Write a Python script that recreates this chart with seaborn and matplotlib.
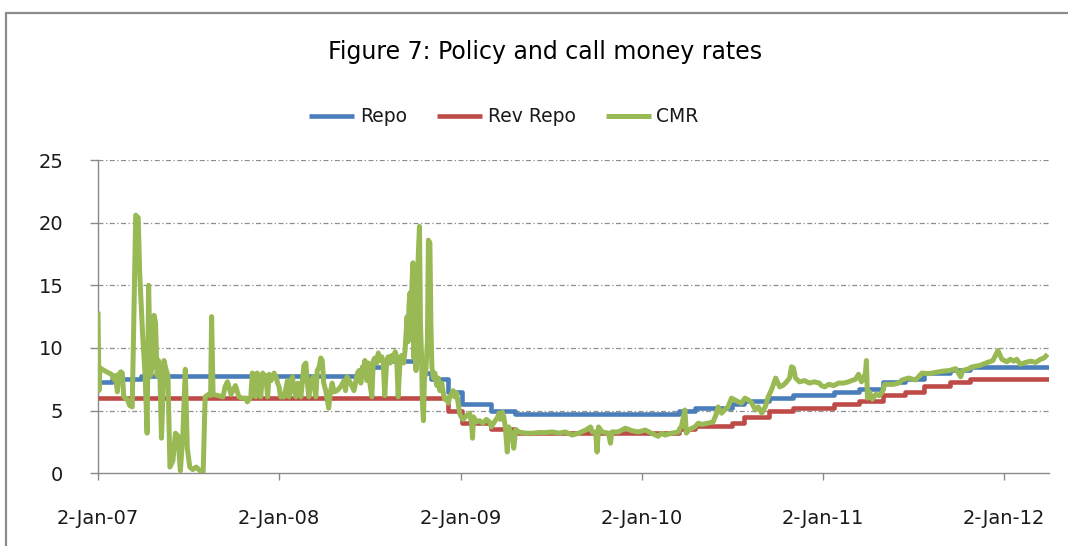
import matplotlib
matplotlib.use("Agg")
import matplotlib.pyplot as plt
import matplotlib.patches as mpatches
import pandas as pd
import seaborn as sns

# ---------------- data ----------------
repo_dates = ["2007-01-02", "2007-01-31", "2007-03-30", "2008-06-11", "2008-06-25",
              "2008-07-30", "2008-10-20", "2008-11-03", "2008-12-08", "2009-01-05",
              "2009-03-05", "2009-04-21", "2010-03-19", "2010-04-20", "2010-07-02",
              "2010-07-27", "2010-09-16", "2010-11-02", "2011-01-25", "2011-03-17",
              "2011-05-03", "2011-06-16", "2011-07-26", "2011-09-16", "2011-10-25",
              "2012-04-02"]
repo_rates = [7.25, 7.5, 7.75, 8.0, 8.5, 9.0, 8.0, 7.5, 6.5, 5.5, 5.0, 4.75, 5.0, 5.25,
              5.5, 5.75, 6.0, 6.25, 6.5, 6.75, 7.25, 7.5, 8.0, 8.25, 8.5, 8.5]

rev_repo_dates = ["2007-01-02", "2008-12-08", "2009-01-05", "2009-03-05", "2009-04-21",
                  "2010-03-19", "2010-04-20", "2010-07-02", "2010-07-27", "2010-09-16",
                  "2010-11-02", "2011-01-25", "2011-03-17", "2011-05-03", "2011-06-16",
                  "2011-07-26", "2011-09-16", "2011-10-25", "2012-04-02"]
rev_repo_rates = [6.0, 5.0, 4.0, 3.5, 3.25, 3.5, 3.75, 4.0, 4.5, 5.0, 5.25, 5.5, 5.75,
                  6.25, 6.5, 7.0, 7.25, 7.5, 7.5]

cmr_dates = [
    "2007-01-02", "2007-01-04", "2007-01-06", "2007-01-19", "2007-01-29", "2007-02-03",
    "2007-02-06", "2007-02-10", "2007-02-13", "2007-02-17", "2007-02-20", "2007-02-23",
    "2007-03-02", "2007-03-07", "2007-03-12", "2007-03-15", "2007-03-19", "2007-03-24",
    "2007-03-27", "2007-04-02", "2007-04-07", "2007-04-11", "2007-04-14", "2007-04-18",
    "2007-04-21", "2007-04-25", "2007-04-28", "2007-05-01", "2007-05-04", "2007-05-07",
    "2007-05-10", "2007-05-15", "2007-05-19", "2007-05-23", "2007-05-27", "2007-06-02",
    "2007-06-07", "2007-06-12", "2007-06-17", "2007-06-22", "2007-06-27", "2007-07-01",
    "2007-07-06", "2007-07-12", "2007-07-19", "2007-07-29", "2007-08-02", "2007-08-06",
    "2007-08-13", "2007-08-17", "2007-08-19", "2007-08-22", "2007-09-01", "2007-09-11",
    "2007-09-15", "2007-09-20", "2007-09-27", "2007-10-06", "2007-10-13", "2007-10-20",
    "2007-10-27", "2007-10-30", "2007-11-06", "2007-11-09", "2007-11-13", "2007-11-16",
    "2007-11-19", "2007-11-23", "2007-11-26", "2007-11-30", "2007-12-03", "2007-12-06",
    "2007-12-10", "2007-12-13", "2007-12-17", "2007-12-20", "2007-12-23", "2007-12-27",
    "2007-12-30",
    "2008-01-02", "2008-01-05", "2008-01-12", "2008-01-19", "2008-01-22", "2008-01-26",
    "2008-01-29", "2008-02-01", "2008-02-05", "2008-02-09", "2008-02-15", "2008-02-21",
    "2008-02-25", "2008-02-28", "2008-03-02", "2008-03-07", "2008-03-11", "2008-03-16",
    "2008-03-19", "2008-03-23", "2008-03-26", "2008-03-29", "2008-04-01", "2008-04-05",
    "2008-04-08", "2008-04-11", "2008-04-15", "2008-04-18", "2008-04-22", "2008-04-28",
    "2008-05-05", "2008-05-12", "2008-05-15", "2008-05-18", "2008-05-25", "2008-06-01",
    "2008-06-08", "2008-06-11", "2008-06-15", "2008-06-18", "2008-06-20", "2008-06-23",
    "2008-06-27", "2008-06-30", "2008-07-03", "2008-07-07", "2008-07-10", "2008-07-13",
    "2008-07-17", "2008-07-20", "2008-07-23", "2008-07-27", "2008-07-30", "2008-08-02",
    "2008-08-06", "2008-08-09", "2008-08-13", "2008-08-16", "2008-08-19", "2008-08-23",
    "2008-08-26", "2008-08-29", "2008-09-02", "2008-09-05", "2008-09-09", "2008-09-12",
    "2008-09-16", "2008-09-18", "2008-09-20", "2008-09-22", "2008-09-24", "2008-09-26",
    "2008-09-28", "2008-09-30", "2008-10-02", "2008-10-04", "2008-10-06", "2008-10-09",
    "2008-10-11", "2008-10-13", "2008-10-15", "2008-10-17", "2008-10-19", "2008-10-21",
    "2008-10-24", "2008-10-27", "2008-10-29", "2008-11-01", "2008-11-03", "2008-11-05",
    "2008-11-08", "2008-11-11", "2008-11-15", "2008-11-18", "2008-11-21", "2008-11-25",
    "2008-11-28", "2008-12-01", "2008-12-05", "2008-12-08", "2008-12-11", "2008-12-15",
    "2008-12-18", "2008-12-21", "2008-12-25", "2008-12-28", "2008-12-31",
    "2009-01-03", "2009-01-07", "2009-01-14", "2009-01-20", "2009-01-24", "2009-01-26",
    "2009-01-28", "2009-02-03", "2009-02-09", "2009-02-16", "2009-02-23", "2009-03-01",
    "2009-03-05", "2009-03-11", "2009-03-18", "2009-03-20", "2009-03-23", "2009-03-27",
    "2009-03-30", "2009-04-02", "2009-04-06", "2009-04-09", "2009-04-12", "2009-04-16",
    "2009-04-19", "2009-04-23", "2009-04-29", "2009-05-13", "2009-05-26", "2009-06-09",
    "2009-06-22", "2009-07-06", "2009-07-19", "2009-08-01", "2009-08-15", "2009-08-28",
    "2009-09-11", "2009-09-21", "2009-09-24", "2009-10-01", "2009-10-04", "2009-10-07",
    "2009-10-14", "2009-10-27", "2009-10-31", "2009-11-03", "2009-11-16", "2009-11-30",
    "2009-12-13", "2009-12-26",
    "2010-01-09", "2010-01-22", "2010-02-04", "2010-02-11", "2010-02-18", "2010-03-03",
    "2010-03-17", "2010-03-20", "2010-03-23", "2010-03-30", "2010-04-02", "2010-04-08",
    "2010-04-19", "2010-04-26", "2010-05-03", "2010-05-16", "2010-05-26", "2010-06-02",
    "2010-06-05", "2010-06-12", "2010-06-18", "2010-06-25", "2010-07-02", "2010-07-09",
    "2010-07-16", "2010-07-22", "2010-07-29", "2010-08-05", "2010-08-12", "2010-08-19",
    "2010-08-25", "2010-09-01", "2010-09-08", "2010-09-14", "2010-09-21", "2010-09-29",
    "2010-10-07", "2010-10-13", "2010-10-19", "2010-10-27", "2010-10-31", "2010-11-04",
    "2010-11-08", "2010-11-16", "2010-11-26", "2010-12-06", "2010-12-16", "2010-12-26",
    "2010-12-30",
    "2011-01-06", "2011-01-14", "2011-01-24", "2011-02-03", "2011-02-13", "2011-02-23",
    "2011-03-01", "2011-03-09", "2011-03-15", "2011-03-21", "2011-03-25", "2011-03-29",
    "2011-03-31", "2011-04-02", "2011-04-06", "2011-04-12", "2011-04-19", "2011-04-26",
    "2011-05-02", "2011-05-07", "2011-05-15", "2011-05-25", "2011-06-04", "2011-06-11",
    "2011-06-24", "2011-07-08", "2011-07-21", "2011-08-04", "2011-08-17", "2011-09-01",
    "2011-09-14", "2011-09-27", "2011-10-07", "2011-10-11", "2011-10-24", "2011-10-31",
    "2011-11-14", "2011-11-27", "2011-12-11", "2011-12-21", "2011-12-29",
    "2012-01-08", "2012-01-15", "2012-01-22", "2012-01-28", "2012-02-04", "2012-02-15",
    "2012-02-25", "2012-03-06", "2012-03-16", "2012-03-23", "2012-03-30",
]
cmr_rates = [
    12.9, 6.6, 8.4, 8.1, 7.9, 7.5,
    7.8, 6.5, 7.9, 8.1, 8.0, 6.1,
    5.9, 5.4, 5.3, 12.0, 20.6, 20.4,
    16.0, 11.0, 7.8, 3.2, 15.0, 7.8,
    8.5, 12.6, 12.0, 7.8, 9.0, 7.5,
    2.8, 9.0, 8.3, 7.8, 0.5, 1.0,
    3.2, 3.0, 0.2, 3.0, 8.3, 2.0,
    0.5, 0.3, 0.5, 0.1, 0.1, 6.1,
    6.3, 6.2, 12.5, 6.3, 6.2, 6.1,
    6.9, 7.3, 6.3, 7.0, 6.1, 6.0,
    6.0, 5.7, 6.1, 8.0, 7.9, 6.1,
    8.0, 7.5, 6.1, 8.0, 7.5, 7.8,
    6.1, 7.9, 7.4, 7.7, 8.0, 7.7,
    7.2,
    6.9, 6.1, 6.1, 7.4, 6.1, 7.4,
    7.7, 6.6, 6.1, 7.2, 6.1, 8.6,
    8.8, 7.2, 6.1, 7.4, 7.7, 6.1,
    8.2, 8.5, 9.2, 9.0, 7.2, 6.6,
    5.9, 5.2, 6.6, 7.2, 6.5, 6.6,
    6.9, 7.4, 6.6, 7.7, 7.2, 6.6,
    8.0, 8.2, 7.2, 8.5, 8.0, 9.0,
    7.4, 8.8, 7.2, 6.1, 9.0, 9.2,
    8.8, 9.6, 9.0, 9.3, 8.8, 6.2,
    9.0, 9.3, 8.8, 9.4, 9.0, 9.7,
    9.3, 6.1, 9.1, 9.4, 8.8, 9.8,
    12.5, 10.5, 13.5, 14.4, 11.0, 15.2,
    16.8, 9.2, 16.5, 8.2, 14.0, 17.8,
    19.7, 12.0, 9.5, 5.5, 4.2, 7.5,
    8.3, 10.5, 18.6, 18.4, 12.0, 8.5,
    7.6, 8.0, 7.0, 7.6, 6.6, 7.2,
    6.4, 5.9, 6.0, 5.6, 6.1, 6.4,
    6.6, 6.1, 6.4, 5.6, 4.8,
    4.5, 4.3, 4.6, 4.8, 4.0, 2.8,
    4.5, 4.1, 4.2, 4.0, 4.3, 4.1,
    3.7, 4.1, 4.5, 4.8, 4.3, 4.9,
    4.5, 3.7, 1.7, 3.7, 3.3, 3.2,
    2.0, 3.5, 3.3, 3.2, 3.2, 3.25,
    3.25, 3.3, 3.2, 3.3, 3.05, 3.2,
    3.45, 3.7, 3.3, 3.3, 1.7, 3.7,
    3.3, 3.2, 2.4, 3.3, 3.3, 3.6,
    3.4, 3.3,
    3.45, 3.2, 2.95, 3.2, 3.05, 3.2,
    3.3, 3.6, 3.7, 5.05, 3.2, 3.5,
    3.7, 4.0, 3.9, 4.0, 4.1, 4.8,
    5.3, 4.8, 5.05, 5.3, 6.0, 5.85,
    5.7, 5.6, 6.0, 5.85, 5.6, 5.05,
    5.3, 4.8, 5.3, 6.1, 6.7, 7.6,
    6.9, 7.0, 7.2, 7.6, 8.5, 8.4,
    7.6, 7.3, 7.4, 7.2, 7.3, 7.2,
    7.0,
    6.9, 7.1, 7.0, 7.2, 7.2, 7.3,
    7.4, 7.5, 7.9, 7.3, 7.6, 8.0,
    9.0, 6.0, 6.5, 5.9, 6.3, 6.2,
    6.5, 7.1, 7.1, 7.1, 7.2, 7.45,
    7.6, 7.45, 8.0, 7.95, 8.05, 8.15,
    8.2, 8.35, 7.7, 8.2, 8.35, 8.5,
    8.6, 8.8, 9.0, 9.8, 9.1,
    8.9, 9.1, 8.95, 9.1, 8.7, 8.85,
    8.95, 8.85, 9.1, 9.2, 9.5,
]

series_names = ["Repo", "Rev Repo", "CMR"]
series_colors = ["#4A7EBB", "#BE4B48", "#98B954"]
title_text = "Figure 7: Policy and call money rates"
x_tick_dates = ["2007-01-02", "2008-01-02", "2009-01-02", "2010-01-02", "2011-01-02", "2012-01-02"]
x_tick_labels = ["2-Jan-07", "2-Jan-08", "2-Jan-09", "2-Jan-10", "2-Jan-11", "2-Jan-12"]
y_ticks = [0, 5, 10, 15, 20, 25]
x_range = ["2007-01-02", "2012-04-02"]

# ---------------- figure ----------------
sns.set_style("white")
plt.rcParams["font.family"] = ["DejaVu Sans"]

W, H = 1068, 546
fig = plt.figure(figsize=(W / 100, H / 100), dpi=100)
ax = fig.add_axes([98 / W, 1 - 473.3 / H, (1049 - 98) / W, (473.3 - 160) / H])

repo_df = pd.DataFrame({"date": pd.to_datetime(repo_dates), "rate": repo_rates})
rev_df = pd.DataFrame({"date": pd.to_datetime(rev_repo_dates), "rate": rev_repo_rates})
cmr_df = pd.DataFrame({"date": pd.to_datetime(cmr_dates), "rate": cmr_rates})

common = dict(ax=ax, legend=False, solid_joinstyle="round", solid_capstyle="butt")
sns.lineplot(data=repo_df, x="date", y="rate", color=series_colors[0], linewidth=3.3,
             drawstyle="steps-post", zorder=3, **common)
sns.lineplot(data=rev_df, x="date", y="rate", color=series_colors[1], linewidth=3.3,
             drawstyle="steps-post", zorder=4, **common)
sns.lineplot(data=cmr_df, x="date", y="rate", color=series_colors[2], linewidth=3.6,
             zorder=5, **common)

ax.set_xlim(pd.to_datetime(x_range[0]), pd.to_datetime(x_range[1]))
ax.set_ylim(0, 25)
ax.set_yticks(y_ticks)
ax.set_yticklabels([str(v) for v in y_ticks])
ax.set_xticks(pd.to_datetime(x_tick_dates))
ax.set_xticklabels(x_tick_labels)
ax.set_xlabel("")
ax.set_ylabel("")

# grid lines
for v in y_ticks[1:]:
    ax.axhline(v, color="#8f8f8f", linewidth=0.9, linestyle=(0, (4, 2, 1, 2)), zorder=1)

for s in ["top", "right"]:
    ax.spines[s].set_visible(False)
for s in ["left", "bottom"]:
    ax.spines[s].set_color("#8a8a8a")
    ax.spines[s].set_linewidth(1.0)

ax.tick_params(axis="y", which="major", direction="out", length=6, width=1,
               color="#8a8a8a", pad=19, labelsize=14, labelcolor="#1a1a1a", left=True)
ax.tick_params(axis="x", which="major", direction="out", length=5, width=1,
               color="#8a8a8a", pad=21, labelsize=14, labelcolor="#1a1a1a", bottom=True)

# title
fig.text(545 / W, 1 - 52 / H, title_text, ha="center", va="center", fontsize=17,
         color="#000000")

# legend
handles = ax.get_lines()[:3]
leg = fig.legend(handles, series_names, loc="center", bbox_to_anchor=(504 / W, 1 - 117 / H),
                 bbox_transform=fig.transFigure, ncol=3, frameon=False, fontsize=13.5,
                 handlelength=2.4, handletextpad=0.3, columnspacing=1.6)
for t in leg.get_texts():
    t.set_color("#1a1a1a")

# outer chart-area border (cropped at right and bottom)
border = mpatches.Rectangle((6 / W, -0.2), 1.3, 1.2 - 13 / H, transform=fig.transFigure,
                            fill=False, edgecolor="#8c8c8c", linewidth=1.6, clip_on=False)
fig.patches.append(border)

fig.savefig("out.png", dpi=100)
